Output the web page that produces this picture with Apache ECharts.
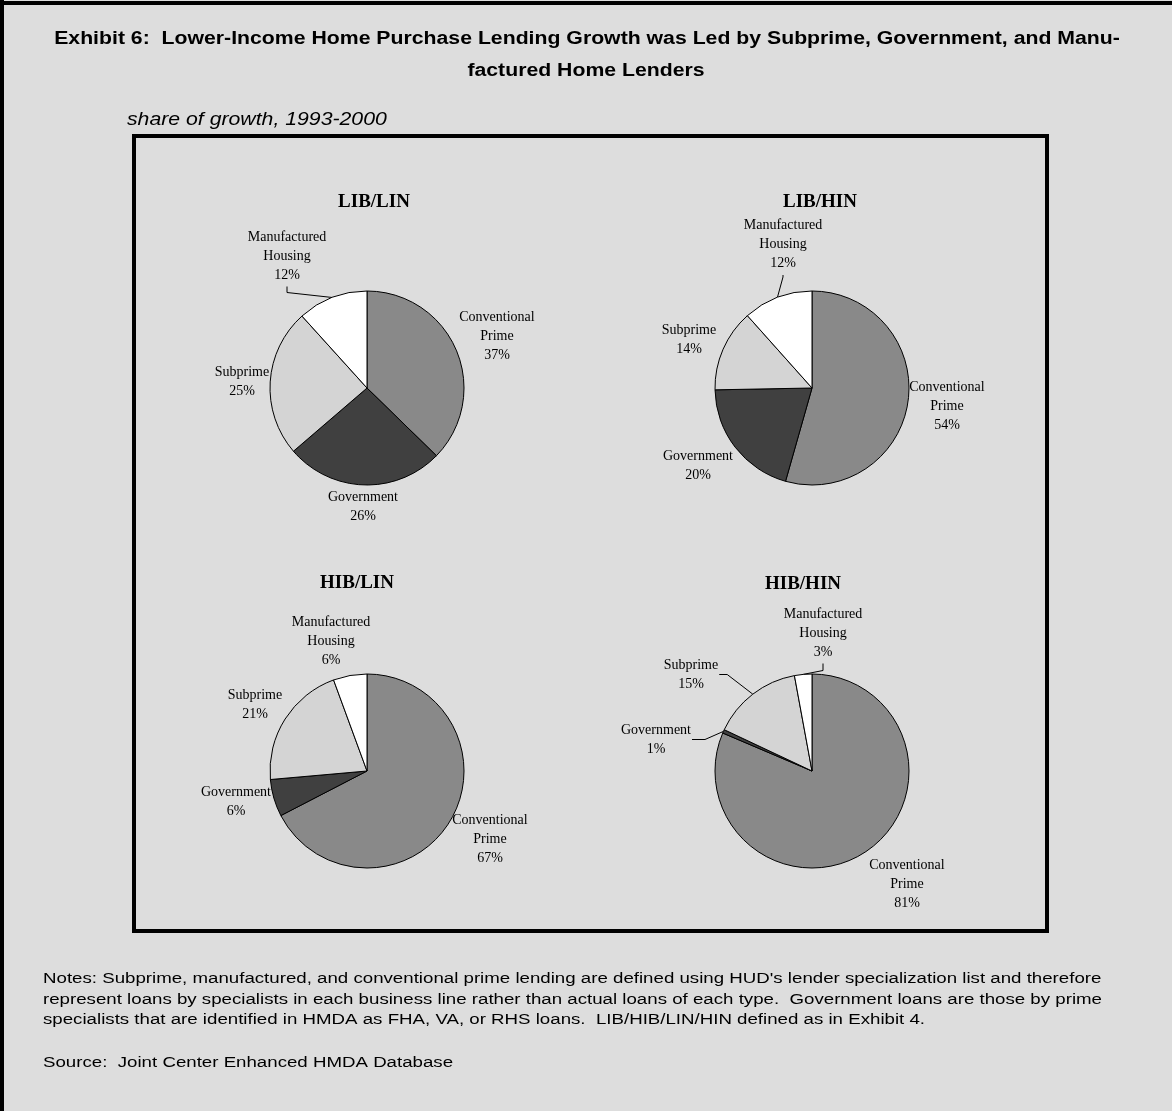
<!DOCTYPE html>
<html><head><meta charset="utf-8">
<script src="https://cdn.jsdelivr.net/npm/echarts@6/dist/echarts.min.js"></script>
<style>html,body{margin:0;padding:0;background:#dddddd}#c{width:1172px;height:1111px}</style>
</head><body><div id="c"></div>
<script>
// ---- data ----
const categories = ['Conventional Prime', 'Government', 'Subprime', 'Manufactured Housing'];
const labelTexts = ['Conventional\nPrime', 'Government', 'Subprime', 'Manufactured\nHousing'];
const panels = ['LIB/LIN', 'LIB/HIN', 'HIB/LIN', 'HIB/HIN'];
const libLin = [37.3, 26.4, 24.6, 11.7];
const libHin = [54.4, 20.3, 13.7, 11.6];
const hibLin = [67.4, 6.2, 20.8, 5.6];
const hibHin = [81.4, 0.6, 15.1, 2.9];
const titleText = [
  'Exhibit 6:  Lower-Income Home Purchase Lending Growth was Led by Subprime, Government, and Manu-',
  'factured Home Lenders'
];
const subtitleText = 'share of growth, 1993-2000';
const notesText = [
  "Notes: Subprime, manufactured, and conventional prime lending are defined using HUD's lender specialization list and therefore",
  "represent loans by specialists in each business line rather than actual loans of each type.  Government loans are those by prime",
  "specialists that are identified in HMDA as FHA, VA, or RHS loans.  LIB/HIB/LIN/HIN defined as in Exhibit 4."
];
const sourceText = 'Source:  Joint Center Enhanced HMDA Database';

// ---- layout / style ----
const sliceColors = ['#898989', '#404040', '#d4d4d4', '#ffffff'];
const pieCenters = [[367, 388], [812, 388], [367, 771], [812, 771]];
const pieRadius = 97;
const panelTitlePos = [[374, 202], [820, 202], [357, 583.5], [803, 584]];
const labelOffsets = [
  [[130, -52], [-4, 119], [-125, -6], [-80, -132]],
  [[135, 18], [-114, 77.5], [-123, -48.5], [-29, -143.5]],
  [[123, 68], [-131, 31], [-112, -66.5], [-36, -129.5]],
  [[95, 113], [-156, -31.5], [-121, -96.5], [11, -138]]
];
// leader line: [side of label it attaches to, elbow length]; null = no line
const guideSpec = [
  [null, null, null, ['bottom', 6]],
  [null, null, null, ['bottom', 2]],
  [null, null, null, null],
  [null, ['right', 13], ['right', 8], ['bottom', 7]]
];
const allValues = [libLin, libHin, hibLin, hibHin];
const SX = 1.18;
const SXN = 1.205;

const chart = echarts.init(document.getElementById('c'), null, {renderer: 'canvas'});

function midAnchor(s, idx) {
  const vals = allValues[s];
  const total = vals.reduce((a, b) => a + b, 0);
  let before = 0;
  for (let k = 0; k < idx; k++) before += vals[k];
  const frac = (before + vals[idx] / 2) / total;
  const ang = frac * 2 * Math.PI;
  return [pieCenters[s][0] + pieRadius * Math.sin(ang), pieCenters[s][1] - pieRadius * Math.cos(ang)];
}

const series = allValues.map((vals, s) => ({
  type: 'pie',
  center: pieCenters[s],
  radius: pieRadius,
  startAngle: 90,
  clockwise: true,
  percentPrecision: 0,
  avoidLabelOverlap: false,
  animation: false,
  emphasis: {disabled: true},
  itemStyle: {borderColor: '#000', borderWidth: 1},
  label: {
    show: true,
    position: 'outside',
    formatter: p => labelTexts[p.dataIndex] + '\n' + p.percent + '%',
    fontFamily: 'Liberation Serif',
    fontSize: 14,
    lineHeight: 19,
    color: '#000',
    align: 'center'
  },
  labelLine: {show: true, length: 6, length2: 7, smooth: false, lineStyle: {color: '#000', width: 1}},
  labelLayout: params => {
    const i = params.dataIndex;
    const off = labelOffsets[s][i];
    const x = pieCenters[s][0] + off[0];
    const y = pieCenters[s][1] + off[1];
    const res = {x: x, y: y, align: 'center', verticalAlign: 'middle'};
    const g = guideSpec[s][i];
    if (g) {
      const w = params.labelRect.width, h = params.labelRect.height;
      const anchor = midAnchor(s, i);
      let edge, bend;
      if (g[0] === 'bottom') {
        edge = [x, y + h / 2 + 2];
        bend = [x, y + h / 2 + 2 + g[1]];
      } else {
        edge = [x + w / 2 + 1, y];
        bend = [x + w / 2 + 1 + g[1], y];
      }
      res.labelLinePoints = [anchor, bend, edge];
    }
    return res;
  },
  data: categories.map((c, i) => ({
    name: c,
    value: vals[i],
    itemStyle: {color: sliceColors[i]},
    labelLine: {show: !!guideSpec[s][i]}
  }))
}));

function txt(x, y, text, font, align, sx) {
  return {
    type: 'text', x: x, y: y, scaleX: sx || 1, silent: true,
    style: {text: text, font: font, fill: '#000', textAlign: align, align: align,
            textVerticalAlign: 'middle', verticalAlign: 'middle'}
  };
}

const notesFont = '15.5px "Liberation Sans", Arial, sans-serif';
const graphics = [
  {type: 'rect', shape: {x: 0, y: 0, width: 1172, height: 1111}, style: {fill: '#dddddd'}, z: -10, silent: true},
  {type: 'line', shape: {x1: 0, y1: 3, x2: 1172, y2: 3}, style: {stroke: '#000', lineWidth: 4}, silent: true},
  {type: 'line', shape: {x1: 2, y1: 0, x2: 2, y2: 1111}, style: {stroke: '#000', lineWidth: 4}, silent: true},
  {type: 'rect', shape: {x: 134, y: 136, width: 913, height: 795}, style: {fill: 'none', stroke: '#000', lineWidth: 4}, silent: true},
  txt(587, 39, titleText[0], 'bold 18px "Liberation Sans", Arial, sans-serif', 'center', SX),
  txt(586, 71.5, titleText[1], 'bold 18px "Liberation Sans", Arial, sans-serif', 'center', SX),
  txt(127, 120, subtitleText, 'italic 18px "Liberation Sans", Arial, sans-serif', 'left', SX),
  txt(43, 979, notesText[0], notesFont, 'left', SXN),
  txt(43, 999.5, notesText[1], notesFont, 'left', SXN),
  txt(43, 1020, notesText[2], notesFont, 'left', SXN),
  txt(43, 1063, sourceText, notesFont, 'left', SXN)
];
panels.forEach((p, i) => {
  graphics.push(txt(panelTitlePos[i][0], panelTitlePos[i][1], p, 'bold 19px "Liberation Serif", "Times New Roman", serif', 'center', 1));
});

chart.setOption({
  backgroundColor: '#dddddd',
  animation: false,
  graphic: {elements: graphics},
  series: series
});
</script>
</body></html>
